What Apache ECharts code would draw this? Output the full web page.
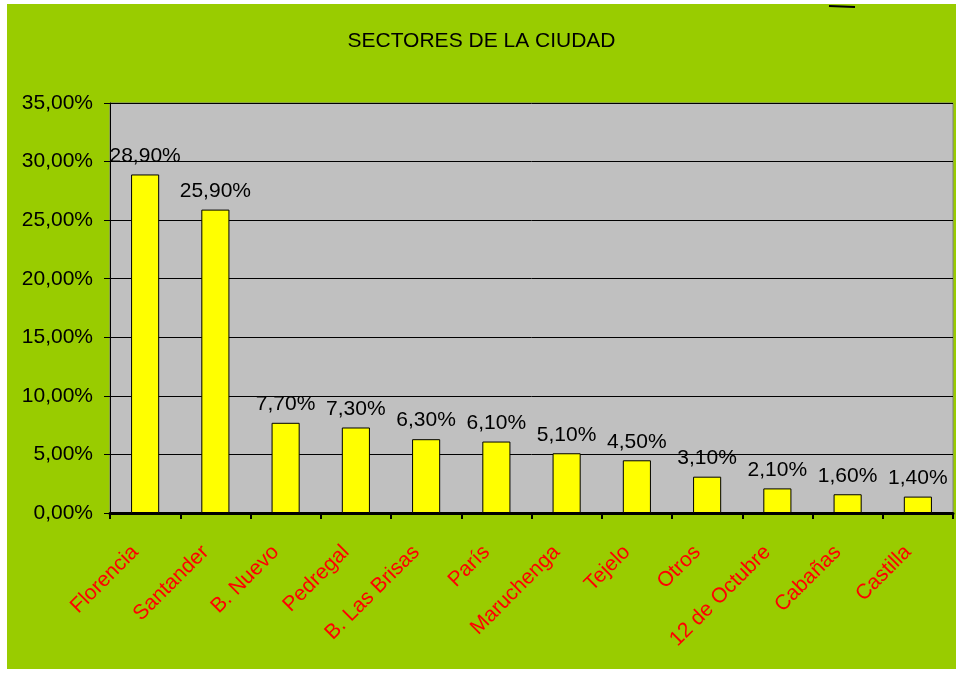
<!DOCTYPE html>
<html>
<head>
<meta charset="utf-8">
<script src="https://cdn.jsdelivr.net/npm/echarts@6/dist/echarts.min.js"></script>
<style>
  html, body { margin: 0; padding: 0; background: #fff; }
  #chart { position: absolute; left: 7px; top: 4px; width: 949px; height: 665px; }
</style>
</head>
<body>
<div id="chart"></div>
<script>
// Sectores de la ciudad: share per sector (percent)
const sectors = ['Florencia', 'Santander', 'B. Nuevo', 'Pedregal', 'B. Las Brisas', 'París',
  'Maruchenga', 'Tejelo', 'Otros', '12 de Octubre', 'Cabañas', 'Castilla'];
const shares = [28.9, 25.9, 7.7, 7.3, 6.3, 6.1, 5.1, 4.5, 3.1, 2.1, 1.6, 1.4];

const fmtPct = v => v.toFixed(2).replace('.', ',') + '%';

const chart = echarts.init(document.getElementById('chart'));

chart.setOption({
  backgroundColor: '#99CC00',
  textStyle: { fontFamily: 'Liberation Sans, Arial, sans-serif' },
  title: {
    text: 'SECTORES DE LA CIUDAD',
    left: 'center', top: 22,
    textStyle: { color: '#000', fontSize: 21, fontWeight: 'normal' },
  },
  grid: { left: 103, right: 3, top: 99, bottom: 156, show: true,
    backgroundColor: '#C0C0C0', borderColor: '#808080', borderWidth: 1 },
  xAxis: {
    type: 'category',
    data: sectors,
    axisLine: { lineStyle: { color: '#000', width: 3 } },
    axisTick: { show: true, length: 6, lineStyle: { color: '#000', width: 2 } },
    axisLabel: { color: '#FF0000', fontSize: 21, rotate: 45, margin: 26, interval: 0,
      padding: [0, 14, 0, 0] },
  },
  yAxis: {
    type: 'value',
    min: 0, max: 35, interval: 5,
    axisLine: { show: true, lineStyle: { color: '#000', width: 1 } },
    axisTick: { show: true, length: 6, lineStyle: { color: '#000' } },
    axisLabel: { color: '#000', fontSize: 21, margin: 17, formatter: v => fmtPct(v) },
    splitLine: { lineStyle: { color: '#000', width: 1 } },
  },
  series: [{
    type: 'bar',
    data: shares,
    barWidth: '40%',
    itemStyle: { color: '#FFFF00', borderColor: '#000', borderWidth: 1 },
    label: {
      show: true, position: 'top', distance: 8,
      color: '#000', fontSize: 21,
      formatter: p => fmtPct(p.value),
    },
  }],
  graphic: [{
    type: 'line',
    shape: { x1: 822, y1: 2, x2: 848, y2: 3 },
    style: { stroke: '#000', lineWidth: 2 },
  }],
});
</script>
</body>
</html>
